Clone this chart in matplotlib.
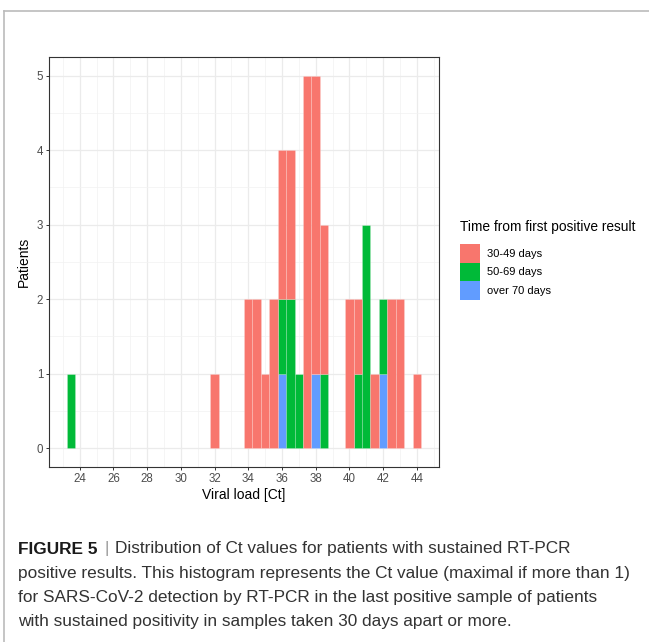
import numpy as np
import matplotlib.pyplot as plt
from matplotlib.patches import Patch
from matplotlib.lines import Line2D

# Ct bin centres (binwidth 0.5) and counts per group
ct_bins = [23.5, 32, 34, 34.5, 35, 35.5, 36, 36.5, 37, 37.5, 38, 38.5,
           40, 40.5, 41, 41.5, 42, 42.5, 43, 44]
days_30_49 = [0, 1, 2, 2, 1, 2, 2, 2, 0, 5, 4, 2, 2, 1, 0, 1, 0, 2, 2, 1]
days_50_69 = [1, 0, 0, 0, 0, 0, 1, 2, 1, 0, 0, 1, 0, 1, 3, 0, 1, 0, 0, 0]
days_over_70 = [0, 0, 0, 0, 0, 0, 1, 0, 0, 0, 1, 0, 0, 0, 0, 0, 1, 0, 0, 0]

group_labels = ["30-49 days", "50-69 days", "over 70 days"]
group_colors = ["#F8766D", "#00BA38", "#619CFF"]
bin_width = 0.5

x_ticks = list(range(24, 45, 2))
y_ticks = [0, 1, 2, 3, 4, 5]

caption_lines = [
    "positive results. This histogram represents the Ct value (maximal if more than 1)",
    "for SARS-CoV-2 detection by RT-PCR in the last positive sample of patients",
    "with sustained positivity in samples taken 30 days apart or more.",
]

plt.rcParams['font.family'] = ['Liberation Sans', 'DejaVu Sans']

fig = plt.figure(figsize=(6.49, 6.42), dpi=100)
ax = fig.add_axes([0.076, 0.273, 0.600, 0.638])

# stacked like ggplot: last level at the bottom
x = np.array(ct_bins)
blue = np.array(days_over_70)
green = np.array(days_50_69)
red = np.array(days_30_49)
edge = (1, 1, 1, 0.3)
ax.bar(x, blue, width=bin_width, color=group_colors[2], edgecolor=edge, linewidth=0.4, zorder=3)
ax.bar(x, green, width=bin_width, bottom=blue, color=group_colors[1], edgecolor=edge, linewidth=0.4, zorder=3)
ax.bar(x, red, width=bin_width, bottom=blue + green, color=group_colors[0], edgecolor=edge, linewidth=0.4, zorder=3)

lo, hi = x.min() - bin_width / 2, x.max() + bin_width / 2
pad = (hi - lo) * 0.05
ax.set_xlim(lo - pad, hi + pad)
ax.set_ylim(-0.25, 5.25)

ax.set_xticks(x_ticks)
ax.set_xticks(np.arange(23, 46, 2), minor=True)
ax.set_yticks(y_ticks)
ax.set_yticks(np.arange(0.5, 5, 1), minor=True)
ax.grid(which='major', color='#EBEBEB', linewidth=0.9, zorder=0)
ax.grid(which='minor', color='#F2F2F2', linewidth=0.5, zorder=0)
ax.set_axisbelow(True)

for s in ax.spines.values():
    s.set_color('#333333')
    s.set_linewidth(0.8)
ax.tick_params(which='major', length=2.5, width=0.7, color='#333333',
               labelsize=8.3, labelcolor='#4D4D4D', pad=2)
ax.tick_params(which='minor', length=0)

ax.set_xlabel("Viral load [Ct]", fontsize=10, labelpad=2)
ax.set_ylabel("Patients", fontsize=10, labelpad=4)

handles = [Patch(facecolor=c, edgecolor='none') for c in group_colors]
leg = ax.legend(handles, group_labels, title="Time from first positive result",
                loc='upper left', bbox_to_anchor=(0.709, 0.657),
                bbox_transform=fig.transFigure, frameon=False,
                fontsize=8, title_fontsize=9.9, handlelength=1.8,
                handleheight=2.2, labelspacing=0.0, handletextpad=0.6,
                borderpad=0, borderaxespad=0, alignment='left')
leg._legend_box.sep = 7

# outer frame of the figure (left and top lines)
fig.add_artist(Line2D([4 / 649, 4 / 649], [0, 1 - 10.5 / 642], transform=fig.transFigure,
                      color='#BBBBBB', linewidth=1.2))
fig.add_artist(Line2D([4 / 649, 1], [1 - 10.5 / 642, 1 - 10.5 / 642], transform=fig.transFigure,
                      color='#BBBBBB', linewidth=1.2))

# caption
cap_size = 12.4
cap_color = '#333333'
x0 = 18.5 / 649
y_first = 1 - 549 / 642
step = 24.3 / 642
t = fig.text(x0, y_first, "FIGURE 5", fontsize=cap_size, fontweight='bold',
             color='#1a1a1a', va='center')
fig.canvas.draw()
bb = t.get_window_extent()
x1 = (bb.x1 + 6) / 649
fig.text(x1, y_first, "|", fontsize=cap_size, color='#999999', va='center')
fig.text(x1 + 11 / 649, y_first, "Distribution of Ct values for patients with sustained RT-PCR",
         fontsize=cap_size, color=cap_color, va='center')
for i, line in enumerate(caption_lines):
    fig.text(x0, y_first - step * (i + 1), line, fontsize=cap_size, color=cap_color, va='center')

fig.savefig("out.png", dpi=100)
